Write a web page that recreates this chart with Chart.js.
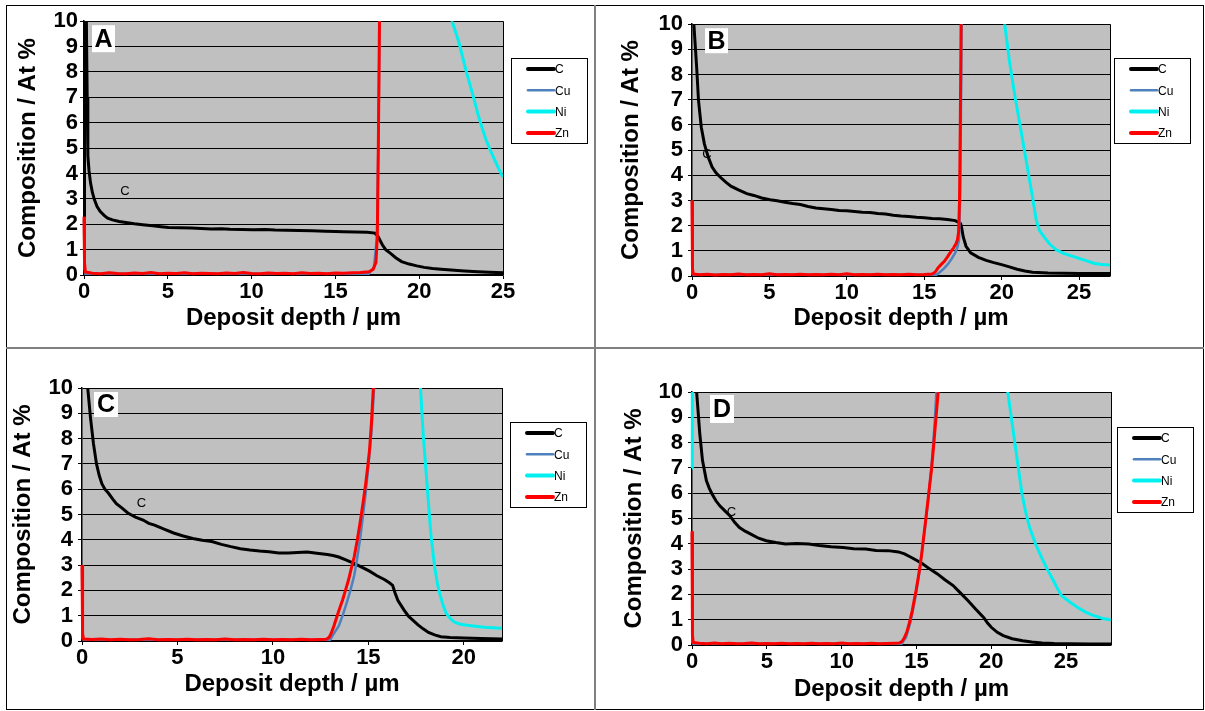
<!DOCTYPE html>
<html><head><meta charset="utf-8">
<script src="https://cdn.jsdelivr.net/npm/chart.js"></script>
<style>
html,body{margin:0;padding:0;background:#fff;width:1205px;height:711px;overflow:hidden;}
#frame{position:absolute;left:6px;top:5px;width:1196px;height:703px;border:1px solid #000;}
.vline{position:absolute;left:594px;top:5px;width:2px;height:705px;background:#808080;}
.hline{position:absolute;left:6px;top:347px;width:1198px;height:2px;background:#808080;}
canvas{position:absolute;}
</style></head><body>
<div id="frame"></div><div class="vline"></div><div class="hline"></div>
<canvas id="cA" width="587" height="341" style="left:7px;top:6px"></canvas>
<canvas id="cB" width="605" height="341" style="left:597px;top:6px"></canvas>
<canvas id="cC" width="587" height="359" style="left:7px;top:349px"></canvas>
<canvas id="cD" width="605" height="359" style="left:597px;top:349px"></canvas>
<script>
// ---- data: [depth (µm), composition (at %)] ----
const SERIES = ['C','Cu','Ni','Zn'];
const X_TITLE = 'Deposit depth / µm';
const Y_TITLE = 'Composition / At %';

const A_C = [[0,0.85],[0.03,14],[0.1,14],[0.15,9.4],[0.19,7],[0.23,4.7],[0.3,4.1],[0.39,3.63],[0.5,3.25],[0.62,2.97],[0.78,2.7],[0.96,2.51],[1.2,2.35],[1.41,2.24],[1.7,2.17],[2.1,2.11],[2.5,2.07],[3.0,2.02],[3.5,1.98],[4.1,1.94],[4.6,1.9],[5.05,1.87],[5.7,1.86],[6.4,1.85],[7.0,1.83],[7.6,1.81],[8.2,1.82],[8.7,1.80],[9.4,1.79],[10.1,1.78],[10.8,1.79],[11.4,1.77],[12.1,1.76],[12.8,1.75],[13.6,1.74],[14.4,1.72],[15.0,1.71],[15.5,1.70],[16.2,1.69],[16.9,1.68],[17.36,1.65],[17.54,1.52],[17.8,1.19],[18.0,1.0],[18.27,0.86],[18.6,0.68],[18.95,0.53],[19.4,0.43],[19.86,0.36],[20.3,0.3],[20.8,0.26],[21.3,0.23],[21.9,0.2],[22.7,0.16],[23.5,0.13],[24.2,0.11],[25,0.09]];
const A_Cu = [[0,2.2],[0.03,0.3],[0.08,0.05],[17,0.05],[17.3,0.3],[17.48,1.5],[17.56,5],[17.64,10],[18,35],[25,40]];
const A_Ni = [[0,60],[0.1,94],[20,93],[21.5,30],[21.96,10],[22.37,9.17],[22.82,7.98],[23.05,7.45],[23.28,6.9],[23.5,6.35],[23.75,5.8],[23.96,5.38],[24.2,4.98],[24.4,4.68],[24.7,4.25],[25,3.85]];
const A_Zn = [[0,2.3],[0.03,0.5],[0.08,0.12],[0.5,0.07],[1,0.05],[1.5,0.09],[2,0.06],[2.5,0.05],[3,0.08],[3.5,0.06],[4,0.1],[4.5,0.05],[5,0.07],[5.5,0.06],[6,0.09],[6.5,0.05],[7,0.07],[7.5,0.06],[8,0.05],[8.5,0.08],[9,0.06],[9.5,0.1],[10,0.06],[10.5,0.05],[11,0.08],[11.5,0.06],[12,0.07],[12.5,0.05],[13,0.09],[13.5,0.06],[14,0.07],[14.5,0.05],[15,0.08],[15.5,0.07],[16,0.09],[16.5,0.1],[17,0.13],[17.25,0.22],[17.42,0.5],[17.5,1.5],[17.56,5],[17.63,10],[17.75,20],[18.5,45],[25,60]];

const B_C = [[0,14],[0.12,10],[0.3,8.3],[0.42,6.97],[0.6,5.91],[0.8,5.25],[1.05,4.72],[1.3,4.33],[1.55,4.1],[1.8,3.94],[2.2,3.72],[2.54,3.56],[3.0,3.42],[3.54,3.27],[4.0,3.2],[4.5,3.1],[5.04,3.03],[5.5,2.99],[6.0,2.93],[6.5,2.88],[7.0,2.84],[7.5,2.76],[8.0,2.7],[8.5,2.67],[9.0,2.64],[9.5,2.6],[10,2.59],[10.5,2.56],[11,2.53],[11.5,2.52],[12,2.48],[12.5,2.46],[13,2.41],[13.5,2.38],[14,2.36],[14.5,2.33],[15,2.31],[15.5,2.28],[16,2.27],[16.5,2.24],[17.0,2.2],[17.2,2.14],[17.35,2.08],[17.42,1.9],[17.52,1.55],[17.7,1.18],[18.0,0.92],[18.5,0.74],[19.0,0.62],[19.5,0.53],[20.0,0.45],[20.5,0.36],[21.0,0.27],[21.5,0.2],[22,0.15],[23,0.12],[24,0.11],[25,0.1],[27,0.1]];
const B_Cu = [[0,3.0],[0.03,0.1],[0.08,0.05],[15.8,0.05],[16.0,0.15],[16.25,0.28],[16.5,0.45],[16.75,0.66],[17.0,0.92],[17.15,1.15],[17.25,1.45],[17.33,3.5],[17.42,10],[18,50],[27,55]];
const B_Ni = [[0,60],[0.1,94],[18,94],[19.8,30],[20.2,10],[20.5,8.55],[20.87,7.1],[21.25,5.78],[21.62,4.46],[21.99,3.15],[22.24,2.2],[22.45,1.8],[22.74,1.55],[23.1,1.27],[23.5,1.05],[24.0,0.9],[24.5,0.8],[25,0.7],[25.5,0.6],[26,0.5],[26.5,0.46],[27,0.44]];
const B_Zn = [[0,3.0],[0.03,0.3],[0.08,0.08],[0.5,0.05],[1,0.07],[1.5,0.04],[2,0.06],[2.5,0.05],[3,0.08],[3.5,0.05],[4,0.06],[4.5,0.05],[5,0.09],[5.5,0.05],[6,0.06],[6.5,0.05],[7,0.07],[7.5,0.05],[8,0.06],[8.5,0.05],[9,0.07],[9.5,0.05],[10,0.09],[10.5,0.05],[11,0.06],[11.5,0.05],[12,0.07],[12.5,0.05],[13,0.06],[13.5,0.05],[14,0.07],[14.5,0.05],[15,0.06],[15.5,0.08],[15.7,0.15],[15.9,0.33],[16.1,0.46],[16.3,0.58],[16.5,0.76],[16.7,0.95],[16.9,1.12],[17.05,1.28],[17.15,1.45],[17.22,1.75],[17.28,3],[17.33,6],[17.38,10],[17.5,25],[18,40],[27,45]];

const C_C = [[0,14],[0.3,10],[0.44,8.86],[0.6,7.8],[0.76,7.0],[0.9,6.55],[1.04,6.22],[1.2,6.0],[1.4,5.83],[1.6,5.62],[1.8,5.43],[2.1,5.25],[2.4,5.06],[2.8,4.9],[3.2,4.78],[3.5,4.65],[3.8,4.58],[4.3,4.42],[4.8,4.27],[5.3,4.15],[5.8,4.05],[6.3,3.98],[6.8,3.93],[7.3,3.82],[7.8,3.73],[8.3,3.65],[8.8,3.6],[9.3,3.56],[9.8,3.53],[10.3,3.48],[10.8,3.48],[11.3,3.5],[11.8,3.52],[12.3,3.47],[12.85,3.42],[13.15,3.38],[13.45,3.32],[13.85,3.2],[14.25,3.07],[14.65,2.92],[15.06,2.76],[15.45,2.58],[15.86,2.42],[16.1,2.3],[16.27,2.2],[16.4,1.9],[16.55,1.6],[16.87,1.22],[17.1,0.98],[17.37,0.8],[17.6,0.64],[17.87,0.48],[18.15,0.34],[18.47,0.24],[18.8,0.17],[19.28,0.14],[20,0.12],[20.9,0.1],[22,0.08]];
const C_Cu = [[0,2.9],[0.03,0.1],[0.08,0.05],[13.0,0.05],[13.2,0.3],[13.45,0.6],[13.65,1.0],[13.86,1.5],[14.06,2.0],[14.26,2.6],[14.41,3.25],[14.56,4.0],[14.71,4.9],[14.86,5.85],[15.01,7.0],[15.16,8.25],[15.3,10],[16,30],[22,65]];
const C_Ni = [[0,60],[0.1,94],[16,94],[17.3,30],[17.73,10],[17.87,8.2],[18.07,6.22],[18.27,4.25],[18.47,2.93],[18.62,2.25],[18.78,1.75],[18.93,1.38],[19.08,1.09],[19.28,0.9],[19.48,0.76],[19.78,0.67],[20.08,0.63],[20.6,0.58],[21.08,0.54],[21.5,0.52],[22,0.5]];
const C_Zn = [[0,3.0],[0.03,0.3],[0.08,0.08],[0.5,0.06],[1,0.08],[1.5,0.05],[2,0.07],[2.5,0.05],[3,0.06],[3.5,0.09],[4,0.05],[4.5,0.06],[5,0.05],[5.5,0.07],[6,0.05],[6.5,0.06],[7,0.05],[7.5,0.08],[8,0.05],[8.5,0.06],[9,0.05],[9.5,0.07],[10,0.05],[10.5,0.06],[11,0.05],[11.5,0.07],[12,0.05],[12.5,0.06],[12.8,0.07],[12.95,0.15],[13.05,0.3],[13.2,0.6],[13.35,0.96],[13.5,1.3],[13.65,1.62],[13.8,2.0],[13.96,2.41],[14.1,2.85],[14.26,3.33],[14.41,3.95],[14.56,4.64],[14.71,5.4],[14.86,6.22],[14.96,6.85],[15.06,7.54],[15.16,8.6],[15.26,10],[15.5,15],[16,25],[22,30]];

const D_C = [[0,14],[0.31,10],[0.52,8.35],[0.7,7.3],[0.96,6.5],[1.15,6.2],[1.34,5.97],[1.6,5.7],[1.86,5.5],[2.2,5.3],[2.51,5.12],[2.85,4.85],[3.15,4.65],[3.55,4.5],[3.93,4.38],[4.45,4.22],[4.96,4.12],[5.6,4.05],[6.25,3.99],[7.0,4.01],[7.8,3.99],[8.5,3.93],[9.3,3.88],[10.1,3.85],[10.8,3.8],[11.6,3.79],[12.3,3.74],[13.1,3.73],[13.8,3.68],[14.2,3.6],[14.6,3.48],[15.0,3.35],[15.4,3.21],[15.9,3.0],[16.4,2.81],[16.9,2.58],[17.45,2.35],[17.9,2.08],[18.45,1.75],[18.95,1.42],[19.5,1.08],[19.75,0.87],[20.0,0.7],[20.4,0.5],[20.8,0.37],[21.4,0.25],[22.1,0.17],[22.7,0.12],[23.4,0.08],[24.2,0.06],[25.2,0.05],[26.6,0.04],[28,0.04]];
const D_Cu = [[0,4.4],[0.03,0.1],[0.08,0.05],[14.0,0.05],[14.3,0.3],[14.6,0.9],[14.9,1.8],[15.2,2.9],[15.5,4.3],[15.8,5.8],[16.05,7.4],[16.22,8.8],[16.33,10],[17,40],[28,65]];
const D_Ni = [[0,7.0],[0.02,60],[0.1,94],[19,94],[20.6,30],[21.1,10],[21.55,8.09],[22.05,5.98],[22.3,5.25],[22.55,4.66],[22.95,4.0],[23.35,3.47],[23.75,2.98],[24.15,2.55],[24.4,2.25],[24.7,1.95],[25.2,1.72],[25.75,1.49],[26.3,1.3],[26.85,1.16],[27.4,1.06],[28,0.99]];
const D_Zn = [[0,4.5],[0.03,0.4],[0.08,0.1],[0.5,0.07],[1,0.05],[1.5,0.08],[2,0.05],[2.5,0.07],[3,0.05],[3.5,0.06],[4,0.08],[4.5,0.05],[5,0.06],[5.5,0.05],[6,0.07],[6.5,0.05],[7,0.06],[7.5,0.05],[8,0.07],[8.5,0.05],[9,0.06],[9.5,0.05],[10,0.08],[10.5,0.05],[11,0.06],[11.5,0.05],[12,0.07],[12.5,0.05],[13,0.06],[13.5,0.07],[13.85,0.08],[14.05,0.15],[14.2,0.3],[14.35,0.5],[14.47,0.75],[14.6,1.05],[14.72,1.36],[14.84,1.75],[14.97,2.14],[15.1,2.6],[15.23,3.07],[15.36,3.65],[15.48,4.26],[15.61,4.9],[15.74,5.58],[15.87,6.25],[16.0,6.9],[16.13,7.75],[16.25,8.6],[16.35,9.3],[16.45,10],[17,15],[18,30],[28,35]];

// ---- styles ----
Chart.defaults.font.family = '"Liberation Sans", Arial, sans-serif';
Chart.defaults.color = '#000';
const COLORS = {C:'#000000', Cu:'#4f81bd', Ni:'#00f0f0', Zn:'#ff0000'};
const WIDTHS = {C:3, Cu:2.5, Ni:3, Zn:3};
const LEG_WIDTHS = {C:4, Cu:2.5, Ni:4, Zn:4};

const panels = [
  {id:'cA', letter:'A', xMax:25, data:[A_C,A_Cu,A_Ni,A_Zn], pad:{l:77,t:15,r:91,b:12}, yTitlePad:7, xTitlePad:2, yTickPad:2,
   legend:{x:504,y:52}, box:{dx:8,dy:4,w:23,h:27}, cLabel:[2.45,3.28]},
  {id:'cB', letter:'B', xMax:27, data:[B_C,B_Cu,B_Ni,B_Zn], pad:{l:95,t:17,r:92,b:11}, yTitlePad:20, xTitlePad:3, yTickPad:5,
   legend:{x:517,y:52}, box:{dx:13,dy:4,w:23,h:25}, cLabel:[0.97,4.82]},
  {id:'cC', letter:'C', xMax:22, data:[C_C,C_Cu,C_Ni,C_Zn], pad:{l:75,t:39,r:92,b:7}, yTitlePad:2, xTitlePad:2, yTickPad:5,
   legend:{x:503,y:73}, box:{dx:12,dy:4,w:24,h:25}, cLabel:[3.12,5.44]},
  {id:'cD', letter:'D', xMax:28, data:[D_C,D_Cu,D_Ni,D_Zn], pad:{l:95,t:43,r:91,b:3}, yTitlePad:23, xTitlePad:1, yTickPad:5,
   legend:{x:520,y:78}, box:{dx:18,dy:3,w:24,h:28}, cLabel:[2.63,5.25]}
];

const decoPlugin = {
  id: 'panelDeco',
  beforeDraw(chart) {
    const {ctx, chartArea: a} = chart;
    ctx.save();
    ctx.fillStyle = '#c0c0c0';
    ctx.fillRect(a.left, a.top, a.right - a.left, a.bottom - a.top);
    ctx.restore();
  },
  afterDraw(chart, args, o) {
    const {ctx, chartArea: a} = chart;
    const xs = chart.scales.x, ys = chart.scales.y;
    ctx.save();
    ctx.strokeStyle = '#000'; ctx.lineWidth = 1;
    ctx.beginPath(); ctx.moveTo(a.right + 0.5, a.top); ctx.lineTo(a.right + 0.5, a.bottom); ctx.stroke();
    ctx.fillStyle = '#000';
    ctx.font = '13px "Liberation Sans", Arial, sans-serif';
    ctx.textAlign = 'center'; ctx.textBaseline = 'middle';
    ctx.fillText('C', xs.getPixelForValue(o.cLabel[0]), ys.getPixelForValue(o.cLabel[1]));
    const bx = a.left + o.box.dx, by = a.top + o.box.dy;
    ctx.fillStyle = '#fff';
    ctx.fillRect(bx, by, o.box.w, o.box.h);
    ctx.fillStyle = '#000';
    ctx.font = 'bold 25px "Liberation Sans", Arial, sans-serif';
    ctx.fillText(o.letter, bx + o.box.w / 2, by + o.box.h / 2 + 1);
    const lx = o.legend.x, ly = o.legend.y, lw = 76, lh = 85;
    ctx.fillStyle = '#fff';
    ctx.fillRect(lx, ly, lw, lh);
    ctx.strokeStyle = '#000'; ctx.lineWidth = 1;
    ctx.strokeRect(lx + 0.5, ly + 0.5, lw, lh);
    ctx.font = '12px "Liberation Sans", Arial, sans-serif';
    ctx.textAlign = 'left';
    chart.data.datasets.forEach((ds, i) => {
      const yy = ly + 11 + i * 21.3;
      ctx.strokeStyle = ds.borderColor;
      ctx.lineWidth = LEG_WIDTHS[ds.label];
      ctx.lineCap = 'round';
      ctx.beginPath(); ctx.moveTo(lx + 17, yy); ctx.lineTo(lx + 43, yy); ctx.stroke();
      ctx.fillStyle = '#000';
      ctx.fillText(ds.label, lx + 44, yy + 1);
    });
    ctx.restore();
  }
};

panels.forEach(p => {
  new Chart(document.getElementById(p.id), {
    type: 'line',
    data: {
      datasets: SERIES.map((s, i) => ({
        label: s,
        data: p.data[i].map(([x, y]) => ({x, y})),
        borderColor: COLORS[s],
        backgroundColor: COLORS[s],
        borderWidth: WIDTHS[s],
        pointRadius: 0,
        fill: false,
        tension: 0,
        order: 4 - i,
        clip: {left: 3, top: 0, right: 0, bottom: 3}
      }))
    },
    options: {
      responsive: false,
      animation: false,
      events: [],
      layout: {padding: {left: 0, top: p.pad.t, right: p.pad.r, bottom: p.pad.b}},
      plugins: {
        legend: {display: false},
        tooltip: {enabled: false},
        panelDeco: {letter: p.letter, legend: p.legend, box: p.box, cLabel: p.cLabel}
      },
      scales: {
        x: {
          type: 'linear', min: 0, max: p.xMax,
          afterFit: s => { s.height = 60; },
          ticks: {stepSize: 5, includeBounds: false, maxRotation: 0, padding: 0,
                  font: {size: 22, weight: 'bold'}, color: '#000'},
          grid: {drawOnChartArea: false, drawTicks: true, tickLength: 4, color: '#000'},
          border: {color: '#000', width: 1.5},
          title: {display: true, text: X_TITLE, color: '#000',
                  font: {size: 24, weight: 'bold'}, padding: {top: 0, bottom: p.xTitlePad}}
        },
        y: {
          type: 'linear', min: 0, max: 10,
          afterFit: s => { s.width = p.pad.l; },
          ticks: {stepSize: 1, autoSkip: false, padding: p.yTickPad,
                  font: {size: 22, weight: 'bold'}, color: '#000'},
          grid: {color: '#000', lineWidth: 1, tickLength: 4},
          border: {color: '#000', width: 1.5},
          title: {display: true, text: Y_TITLE, color: '#000',
                  font: {size: 24, weight: 'bold'}, padding: {top: p.yTitlePad, bottom: 0}}
        }
      }
    },
    plugins: [decoPlugin]
  });
});
</script>
</body></html>
